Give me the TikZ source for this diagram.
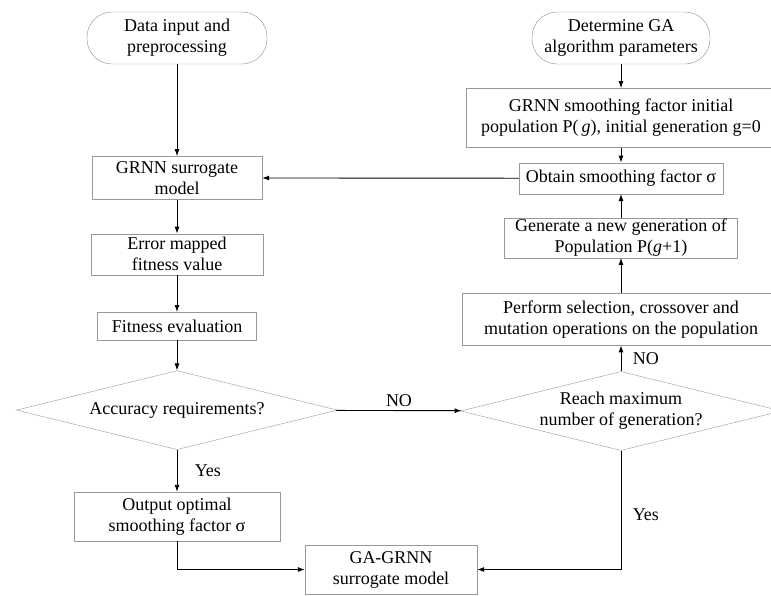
\documentclass[tikz,border=0pt]{standalone}
\usepackage{fontspec}
\setmainfont{Liberation Serif}
\usetikzlibrary{positioning, shapes.geometric, arrows.meta}
\begin{document}
\begin{tikzpicture}[x=1pt, y=-1pt, font=\fontsize{18}{21}\selectfont]
    % Block style
    \tikzstyle{block} = [rectangle, draw=black!40, align=center, inner sep=1pt]
    \tikzstyle{terminal} = [rectangle, rounded corners=25pt, draw=black!45, align=center, minimum height=52pt]
    \tikzstyle{decision} = [diamond, aspect=4.06, draw=black!40, align=center, inner sep=0pt, minimum width=321pt, minimum height=79pt]
    \tikzstyle{line} = [draw, line width=0.9pt, -{Latex[length=7pt,width=5pt]}]

    \useasboundingbox (0,0) rectangle (771,595);

    % Left branch
    \node[terminal, minimum width=180pt] (data) at (177,38) {Data input and\\preprocessing};
    \node[block, minimum width=170pt, minimum height=43pt, below=92pt of data] (grnn) {GRNN surrogate\\model};
    \node[block, minimum width=172pt, minimum height=41pt, below=34pt of grnn] (error) {Error mapped\\fitness value};
    \node[block, minimum width=159pt, minimum height=28pt, below=37pt of error] (fitness) {Fitness evaluation};
    \node[decision, below=30pt of fitness] (accuracy) {Accuracy requirements?};
    \node[block, minimum width=206pt, minimum height=49pt, below=42pt of accuracy] (output) {Output optimal\\smoothing factor σ};

    % Final model
    \node[block, minimum width=172pt, minimum height=49pt] (gagrnn) at (391,569.5) {GA-GRNN\\surrogate model};

    % Right branch (GA loop)
    \node[terminal, minimum width=178pt] (gaparam) at (621,38) {Determine GA\\algorithm parameters};
    \node[block, minimum width=310pt, minimum height=59pt, below=24pt of gaparam] (initpop) {GRNN smoothing factor initial\\population P(\,\textit{g}), initial generation g=0};
    \node[block, minimum width=204pt, minimum height=31pt, below=15pt of initpop] (obtain) {Obtain smoothing factor σ};
    \node[block, minimum width=233pt, minimum height=38pt, below=24pt of obtain] (newgen) {Generate a new generation of\\Population P(\textit{g}+1)};
    \node[block, minimum width=318pt, minimum height=52pt, below=35pt of newgen] (operate) {Perform selection, crossover and\\mutation operations on the population};
    \node[decision, below=26pt of operate] (maxgen) {Reach maximum\\number of generation?};

    % Connections
    \draw[line] (data) -- (grnn);
    \draw[line] (grnn) -- (error);
    \draw[line] (error) -- (fitness);
    \draw[line] (fitness) -- (accuracy);
    \draw[line] (accuracy) -- node[midway, right=14pt] {Yes} (output);
    \draw[line] (accuracy) -- node[midway, above] {NO} (maxgen);
    \draw[line] (output) |- (gagrnn);

    \draw[line] (gaparam) -- (initpop);
    \draw[line] (initpop) -- (obtain);
    \draw[line] (newgen) -- (obtain);
    \draw[line] (operate) -- (newgen);
    \draw[line] (maxgen) -- node[midway, right=8pt] {NO} (operate);
    \draw[line] (maxgen) |- node[pos=0.27, right=8pt] {Yes} (gagrnn);

    % Smoothing factor back to the surrogate model
    \draw[line] (obtain) -- (grnn);
\end{tikzpicture}
\end{document}
